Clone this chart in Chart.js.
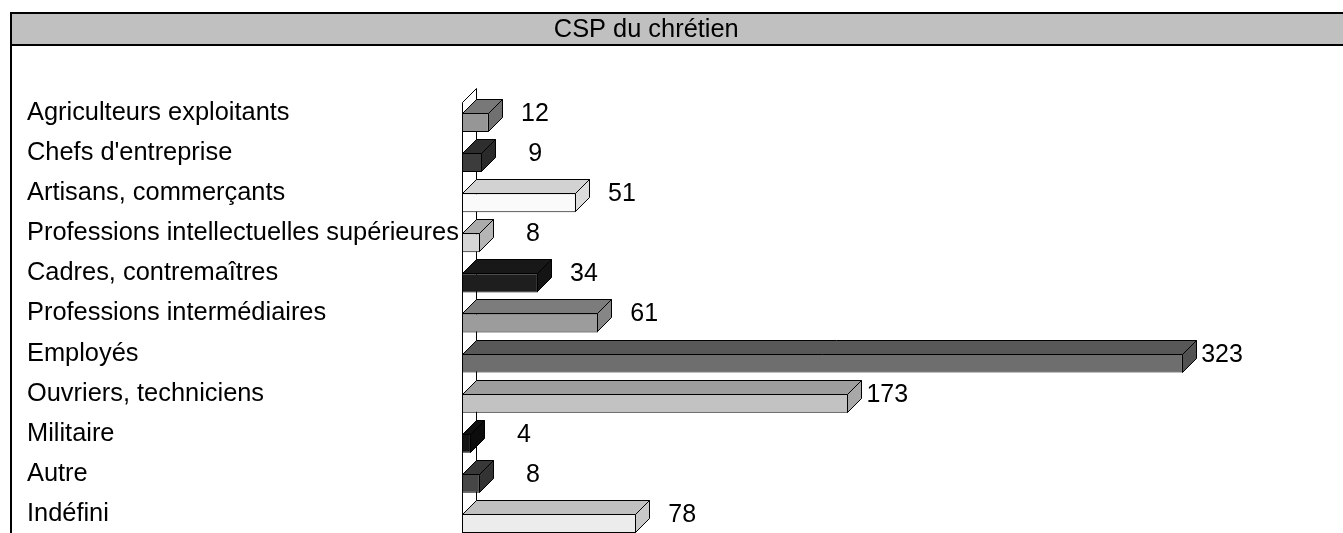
<!DOCTYPE html>
<html lang="fr">
<head>
<meta charset="utf-8">
<title>CSP du chrétien</title>
<script src="https://cdn.jsdelivr.net/npm/chart.js@4.4.1/dist/chart.umd.min.js"></script>
<style>
  html, body { margin: 0; padding: 0; background: #fff; overflow: hidden; }
  #wrap { width: 1343px; height: 533px; overflow: hidden; }
</style>
</head>
<body>
<div id="wrap"><canvas id="cspChart" width="1343" height="560"></canvas></div>
<script>
// donnees du graphique
const titre = "CSP du chrétien";
const categories = [
  "Agriculteurs exploitants",
  "Chefs d'entreprise",
  "Artisans, commerçants",
  "Professions intellectuelles supérieures",
  "Cadres, contremaîtres",
  "Professions intermédiaires",
  "Employés",
  "Ouvriers, techniciens",
  "Militaire",
  "Autre",
  "Indéfini",
];
const effectifs = [12, 9, 51, 8, 34, 61, 323, 173, 4, 8, 78];

// couleurs des faces (avant / dessus / cote)
const faceColors = ["#969696", "#3c3c3c", "#fafafa", "#d6d6d6", "#1e1e1e", "#9c9c9c", "#6e6e6e", "#c2c2c2", "#141414", "#464646", "#ececec"];
const topColors  = ["#787878", "#2e2e2e", "#d2d2d2", "#ababab", "#181818", "#7c7c7c", "#585858", "#9e9e9e", "#101010", "#383838", "#c0c0c0"];
const sideColors = ["#707070", "#2a2a2a", "#dcdcdc", "#b5b5b5", "#141414", "#868686", "#525252", "#a8a8a8", "#0c0c0c", "#333333", "#c8c8c8"];

const FONT = "'Liberation Sans', Arial, sans-serif";
const DEPTH = 14;

Chart.defaults.font.family = FONT;

// cadre + bandeau du titre
const framePlugin = {
  id: "frame",
  beforeDraw(chart) {
    const ctx = chart.ctx;
    const w = chart.width, h = chart.height;
    ctx.save();
    ctx.fillStyle = "#fff";
    ctx.fillRect(0, 0, w, h);
    ctx.fillStyle = "#c0c0c0";
    ctx.fillRect(10, 12, w - 10, 34);
    ctx.fillStyle = "#000";
    ctx.fillRect(10, 12, w - 10, 2);
    ctx.fillRect(10, 44, w - 10, 2);
    ctx.fillRect(10, 12, 2, h - 12);
    ctx.restore();
  },
};

// mur 3D + faces dessus / cote + etiquettes
const bar3dPlugin = {
  id: "bar3d",
  beforeDatasetsDraw(chart) {
    const ctx = chart.ctx;
    const a = chart.chartArea;
    const x0 = Math.round(a.left) + 0.5;
    const y0 = Math.round(a.top) + 0.5;
    ctx.save();
    ctx.beginPath();
    ctx.moveTo(x0, chart.height);
    ctx.lineTo(x0, y0);
    ctx.lineTo(x0 + DEPTH, y0 - DEPTH);
    ctx.lineTo(x0 + DEPTH, chart.height);
    ctx.closePath();
    ctx.fillStyle = "#fff";
    ctx.fill();
    ctx.strokeStyle = "#000";
    ctx.lineWidth = 1;
    ctx.stroke();
    ctx.restore();
  },
  afterDatasetsDraw(chart) {
    const ctx = chart.ctx;
    const meta = chart.getDatasetMeta(0);
    ctx.save();
    ctx.strokeStyle = "#000";
    ctx.lineWidth = 1;
    meta.data.forEach((bar, i) => {
      const p = bar.getProps(["x", "y", "base", "height"], true);
      const l = Math.round(p.base) + 0.5;
      const r = Math.round(p.x) - 0.5;
      const t = Math.round(p.y - p.height / 2) + 0.5;
      const b = Math.round(p.y + p.height / 2) - 0.5;
      // dessus
      ctx.beginPath();
      ctx.moveTo(l, t);
      ctx.lineTo(r, t);
      ctx.lineTo(r + DEPTH, t - DEPTH);
      ctx.lineTo(l + DEPTH, t - DEPTH);
      ctx.closePath();
      ctx.fillStyle = topColors[i];
      ctx.fill();
      ctx.stroke();
      // cote
      ctx.beginPath();
      ctx.moveTo(r, t);
      ctx.lineTo(r + DEPTH, t - DEPTH);
      ctx.lineTo(r + DEPTH, b - DEPTH);
      ctx.lineTo(r, b);
      ctx.closePath();
      ctx.fillStyle = sideColors[i];
      ctx.fill();
      ctx.stroke();
      // valeur
      ctx.fillStyle = "#000";
      ctx.font = "25px " + FONT;
      ctx.textAlign = "right";
      ctx.textBaseline = "middle";
      ctx.fillText(String(effectifs[i]), p.x + 60, t + 1);
    });
    ctx.restore();
  },
};

new Chart(document.getElementById("cspChart"), {
  type: "bar",
  data: {
    labels: categories,
    datasets: [
      {
        data: effectifs,
        backgroundColor: faceColors,
        borderColor: "#000",
        borderWidth: 1,
        borderSkipped: false,
        barPercentage: 0.474,
        categoryPercentage: 1,
      },
    ],
  },
  options: {
    responsive: false,
    animation: false,
    indexAxis: "y",
    layout: { padding: { left: 27, right: 77.5, top: 0, bottom: 16.5 } },
    plugins: {
      legend: { display: false },
      tooltip: { enabled: false },
      title: {
        display: true,
        text: titre,
        color: "#000",
        font: { size: 25.4, weight: "normal", family: FONT, lineHeight: 1.2 },
        padding: { top: 15, bottom: 56.97 },
      },
    },
    scales: {
      x: { display: false, min: 0, max: 360 },
      y: {
        grid: { display: false },
        border: { display: false },
        ticks: {
          crossAlign: "far",
          labelOffset: -9.5,
          autoSkip: false,
          padding: 0,
          color: "#000",
          font: { size: 25.4, family: FONT },
        },
        afterFit(scale) {
          scale.width = 435;
        },
      },
    },
  },
  plugins: [framePlugin, bar3dPlugin],
});
</script>
</body>
</html>
